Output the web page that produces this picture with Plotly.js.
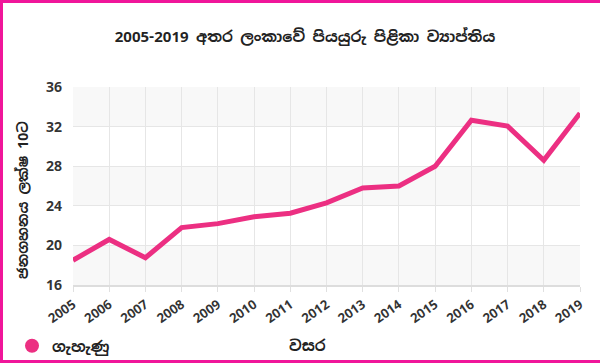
<!DOCTYPE html>
<html><head><meta charset="utf-8">
<script src="https://cdn.plot.ly/plotly-3.0.1.min.js"></script>
<style>
html,body{margin:0;padding:0;background:#fff;}
#wrap{position:absolute;left:0;top:0;width:600px;height:363px;box-sizing:border-box;border-top:3px solid #f0169a;border-left:3px solid #f0169a;border-bottom:3px solid #f0169a;pointer-events:none;}
#chart{position:absolute;left:0;top:0;width:600px;height:363px;}
</style></head>
<body>
<div id="chart"></div>
<div id="wrap"></div>
<script>
var years = ["2005","2006","2007","2008","2009","2010","2011","2012","2013","2014","2015","2016","2017","2018","2019"];
var females = [18.5, 20.6, 18.75, 21.8, 22.2, 22.9, 23.25, 24.3, 25.8, 26.0, 28.0, 32.65, 32.05, 28.6, 33.35];
var yTicks = [16, 20, 24, 28, 32, 36];
var seriesName = "ගැහැණු";
var titleText = "2005-2019 අතර ලංකාවේ පියයුරු පිළිකා ව්‍යාප්තිය";
var xTitle = "වසර";
var yTitle = "ජනගහනය ලක්ෂ 10ට";

var FONT = "'Noto Sans Sinhala', 'Noto Sans', Arial, sans-serif";
var pink = "#ec2f82";

var shapes = [];
for (var i = 0; i < yTicks.length - 1; i++) {
  if (i % 2 === 0) {
    shapes.push({type:'rect', xref:'paper', yref:'y', x0:0, x1:1, y0:yTicks[i], y1:yTicks[i+1],
      fillcolor:'#f8f8f8', line:{width:0}, layer:'below'});
  }
}

var traces = [
  {x: years, y: females, type:'scatter', mode:'lines', line:{color:pink, width:5}, showlegend:false, hoverinfo:'x+y'},
  {x: [null], y: [null], type:'scatter', mode:'markers', name: seriesName, marker:{color:pink, size:14, symbol:'circle'}, showlegend:true}
];

var layout = {
  width: 600, height: 363,
  margin: {l:73, r:20, t:87, b:78},
  paper_bgcolor:'#fff', plot_bgcolor:'#fff',
  font: {family: FONT, color:'#333', size:12},
  title: {text: '<b>' + titleText + '</b>', font:{size:15, color:'#222', family:FONT}, x:305/600, xanchor:'center', xref:'container', yref:'container', y:1-37/363, yanchor:'middle'},
  xaxis: {
    type:'category', range:[0, years.length-1], automargin:false,
    showgrid:true, gridcolor:'#e6e6e6', gridwidth:1,
    showline:true, linecolor:'#dddddd', linewidth:2,
    ticks:'outside', ticklen:5, tickcolor:'#e0e0e0',
    tickangle:-35, tickfont:{size:13, color:'#333', family:FONT, weight:'bold'},
    zeroline:false
  },
  yaxis: {
    range:[16, 36], tickvals: yTicks, ticktext: yTicks.map(String), automargin:false,
    showgrid:true, gridcolor:'#e6e6e6', gridwidth:1,
    showline:false, zeroline:false, ticks:'', ticklabelstandoff:10,
    tickfont:{size:14, color:'#333', family:FONT, weight:'bold'}
  },
  annotations: [
    {text:'<b>' + xTitle + '</b>', xref:'paper', yref:'paper', x:(307-73)/507, y:(285-345)/198, xanchor:'center', yanchor:'middle', showarrow:false, font:{size:15, color:'#222', family:FONT}},
    {text:'<b>' + yTitle + '</b>', xref:'paper', yref:'paper', x:(23-73)/507, y:(285-200)/198, xanchor:'center', yanchor:'middle', textangle:-90, showarrow:false, font:{size:14, color:'#222', family:FONT}}
  ],
  legend: {xref:'container', yref:'container', x:12/600, xanchor:'left', y:1-346/363, yanchor:'middle', orientation:'h',
    font:{size:15, color:'#222', family:FONT, weight:'bold'}, bgcolor:'rgba(0,0,0,0)'},
  shapes: shapes
};

Plotly.newPlot('chart', traces, layout, {displayModeBar:false, staticPlot:true});
</script>
</body></html>
